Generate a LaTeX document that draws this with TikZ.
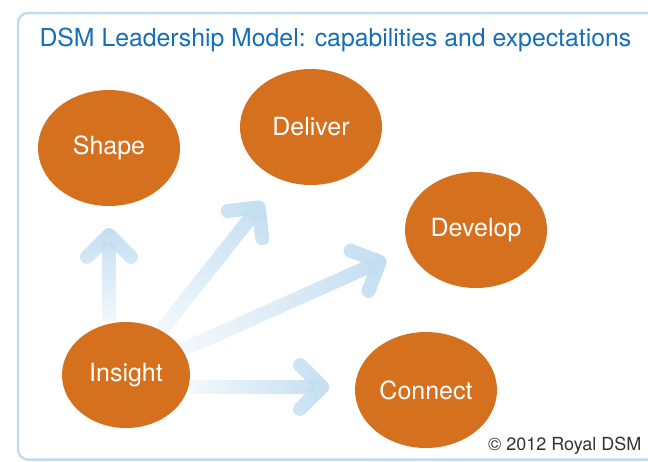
\documentclass[tikz,border=0pt]{standalone}
\usepackage{fontspec}
\setmainfont{TeX Gyre Heros}
\usetikzlibrary{arrows.meta,positioning,shapes.geometric,fadings}

\definecolor{dsmorange}{RGB}{213,112,30}
\definecolor{dsmblue}{RGB}{22,110,182}
\definecolor{framecol}{RGB}{196,218,240}
\definecolor{arrowblue}{RGB}{195,222,241}

% fading along the arrow (weak at the start, full at the tip)
\begin{tikzfadingfrompicture}[name=arrowfade]
  \fill[transparent!80] (-150bp,-150bp) rectangle (-50bp,150bp);
  \shade[left color=transparent!80, right color=transparent!0] (-50bp,-150bp) rectangle (50bp,150bp);
  \fill[transparent!0] (50bp,-150bp) rectangle (150bp,150bp);
\end{tikzfadingfrompicture}

\tikzset{
  capab/.style={ellipse, fill=dsmorange, text=white, inner sep=0pt,
    minimum width=142pt, minimum height=116pt, font=\fontsize{25}{28}\selectfont},
  growarrow/.style={arrowblue, line width=14pt,
    -{Straight Barb[length=22pt,width=44pt,round]}, path fading=arrowfade, fit fading=false}
}

\begin{document}
\begin{tikzpicture}[x=1pt, y=-1pt]
  \useasboundingbox (0,0) rectangle (648,461);
  % frame
  \draw[framecol, line width=2.5pt, rounded corners=10pt] (18,13) rectangle (720,459.5);
  \node[anchor=base west, text=dsmblue, font=\fontsize{24.8}{28}\selectfont] (title) at (36,46)
    {DSM Leadership Model: capabilities and expectations};
  % capabilities
  \node[capab] (shape) at (109,148) {Shape};
  \node[capab] (deliver) at (311,127) {Deliver};
  \node[capab] (develop) at (476,230) {Develop};
  \node[capab] (connect) at (426,390) {Connect};
  \node[capab, minimum width=128pt, minimum height=106pt] (insight) at (126,375) {Insight};
  % arrow tips
  \coordinate (shapetip) at (109,228);
  \coordinate (delivertip) at (263,202);
  \coordinate (developtip) at (386,259);
  \coordinate (connecttip) at (329,387);
  % arrows
  \draw[growarrow, fading transform={shift={(109,275)}, rotate=90, xscale=0.94}]
    (insight.north -| shapetip) -- (shapetip);
  \draw[growarrow, fading transform={shift={(212,266.5)}, rotate=51.6, xscale=1.64}]
    (insight) -- (delivertip);
  \draw[growarrow, fading transform={shift={(284,304.5)}, rotate=24, xscale=2.23}]
    (insight) -- (developtip);
  \draw[growarrow, fading transform={shift={(259.5,387)}, rotate=0, xscale=1.39}]
    (insight.east |- connecttip) -- (connecttip);
  \node[anchor=base east, text=black!80, font=\fontsize{18}{20}\selectfont] (copy) at (645,450)
    {© 2012 Royal DSM};
\end{tikzpicture}
\end{document}
